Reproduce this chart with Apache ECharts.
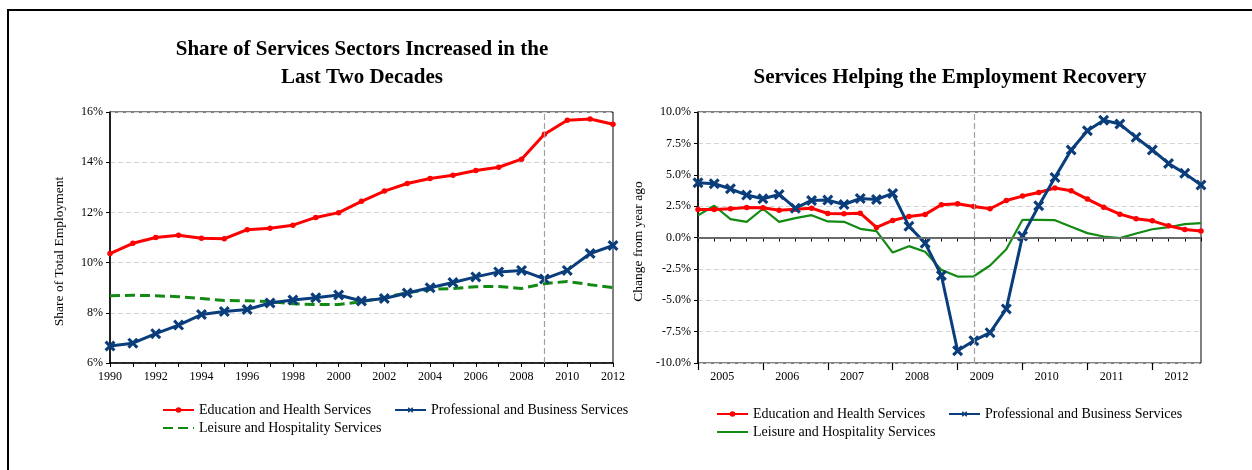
<!DOCTYPE html>
<html>
<head>
<meta charset="utf-8">
<title>Services Sectors</title>
<script src="https://cdn.jsdelivr.net/npm/echarts@6/dist/echarts.min.js"></script>
<style>
  html, body { margin: 0; padding: 0; background: #fff; }
  #frame { position: absolute; left: 7px; top: 9px; width: 1260px; height: 480px;
           border-left: 2px solid #000; border-top: 2px solid #000; }
  #left { position: absolute; left: 0; top: 0; width: 640px; height: 470px; }
  #right { position: absolute; left: 626px; top: 0; width: 626px; height: 470px; }
</style>
</head>
<body>
<div id="frame"></div>
<div id="left"></div>
<div id="right"></div>
<script>
// left chart: annual share of total employment (%)
var years = ['1990', '1991', '1992', '1993', '1994', '1995', '1996', '1997', '1998', '1999', '2000', '2001',
  '2002', '2003', '2004', '2005', '2006', '2007', '2008', '2009', '2010', '2011', '2012'];
var eduShare = [10.36, 10.77, 11.0, 11.09, 10.97, 10.95, 11.31, 11.37, 11.49, 11.8, 11.99, 12.44,
  12.85, 13.15, 13.35, 13.48, 13.67, 13.8, 14.12, 15.11, 15.67, 15.72, 15.51];
var proShare = [6.68, 6.79, 7.17, 7.51, 7.93, 8.05, 8.13, 8.39, 8.51, 8.6, 8.71, 8.47,
  8.57, 8.79, 9.0, 9.21, 9.43, 9.63, 9.69, 9.35, 9.69, 10.36, 10.68];
var leiShare = [8.68, 8.7, 8.68, 8.64, 8.57, 8.49, 8.48, 8.45, 8.36, 8.33, 8.33, 8.44,
  8.61, 8.8, 8.93, 8.97, 9.04, 9.05, 8.97, 9.16, 9.25, 9.12, 9.0];

// right chart: quarterly change from year ago (%)
var quarters = ['2005Q1', '2005Q2', '2005Q3', '2005Q4', '2006Q1', '2006Q2', '2006Q3', '2006Q4',
  '2007Q1', '2007Q2', '2007Q3', '2007Q4', '2008Q1', '2008Q2', '2008Q3', '2008Q4',
  '2009Q1', '2009Q2', '2009Q3', '2009Q4', '2010Q1', '2010Q2', '2010Q3', '2010Q4',
  '2011Q1', '2011Q2', '2011Q3', '2011Q4', '2012Q1', '2012Q2', '2012Q3', '2012Q4'];
var eduChg = [2.23, 2.23, 2.29, 2.39, 2.37, 2.18, 2.26, 2.34, 1.91, 1.89, 1.94, 0.8,
  1.36, 1.68, 1.84, 2.61, 2.69, 2.47, 2.29, 2.95, 3.3, 3.59, 3.94, 3.72,
  3.06, 2.42, 1.86, 1.49, 1.33, 0.93, 0.64, 0.51];
var proChg = [4.36, 4.28, 3.88, 3.38, 3.09, 3.43, 2.34, 2.95, 2.98, 2.63, 3.11, 3.03,
  3.51, 0.9, -0.45, -3.03, -9.02, -8.22, -7.58, -5.69, 0.11, 2.53, 4.79, 6.97,
  8.51, 9.34, 9.04, 7.98, 6.97, 5.9, 5.11, 4.18];
var leiChg = [1.76, 2.53, 1.46, 1.25, 2.29, 1.25, 1.54, 1.78, 1.28, 1.25, 0.69, 0.51,
  -1.2, -0.69, -1.14, -2.58, -3.11, -3.09, -2.23, -0.93, 1.41, 1.41, 1.38, 0.85,
  0.35, 0.08, -0.05, 0.32, 0.66, 0.82, 1.06, 1.14];

var leftTicks = [6, 8, 10, 12, 14, 16];
var rightTicks = [-10, -7.5, -5, -2.5, 0, 2.5, 5, 7.5, 10];

var FONT = "'Liberation Serif', 'Times New Roman', serif";
var RED = '#ff0000', BLUE = '#0a3d7b', GREEN = '#138a13';
var CROSS = 'path://M0,2L2,0L5,3L8,0L10,2L7,5L10,8L8,10L5,7L2,10L0,8L3,5Z';

function legendItem(name, left, top, noSymbol) {
  return {
    data: [noSymbol ? { name: name, itemStyle: { opacity: 0 } } : name],
    left: left, top: top, orient: 'horizontal', padding: 0,
    itemWidth: 31, itemHeight: 7, itemGap: 5, selectedMode: false,
    textStyle: { fontFamily: FONT, fontSize: 14, color: '#000' }
  };
}

var axisText = { fontFamily: FONT, fontSize: 12, color: '#000' };

// 左图
var chartLeft = echarts.init(document.getElementById('left'));
chartLeft.setOption({
  animation: false,
  title: {
    text: 'Share of Services Sectors Increased in the\nLast Two Decades',
    left: 362, top: 36, textAlign: 'center', padding: 0,
    textStyle: { fontFamily: FONT, fontSize: 21, fontWeight: 'bold', color: '#000', lineHeight: 28 }
  },
  legend: [
    legendItem('Education and Health Services', 162, 403),
    legendItem('Professional and Business Services', 394, 403),
    legendItem('Leisure and Hospitality Services', 162, 421, true)
  ],
  grid: { left: 110, right: 27, top: 112, bottom: 107, show: true, borderColor: '#000', borderWidth: 1,
    outerBoundsMode: 'none' },
  xAxis: {
    type: 'category', data: years, boundaryGap: false,
    axisLine: { lineStyle: { color: '#000', width: 1.5 } },
    axisTick: { interval: 0, length: 4, lineStyle: { color: '#000' } },
    axisLabel: Object.assign({ interval: 1, margin: 8 }, axisText),
    splitLine: { show: false }
  },
  yAxis: {
    type: 'value', min: leftTicks[0], max: leftTicks[leftTicks.length - 1], interval: 2,
    name: 'Share of Total Employment', nameLocation: 'middle', nameGap: 44,
    nameTextStyle: { fontFamily: FONT, fontSize: 13.5, color: '#000', padding: [0, 28, 0, 0] },
    axisLine: { show: true, lineStyle: { color: '#000', width: 1.5 } },
    axisTick: { show: true, length: 4, lineStyle: { color: '#000' } },
    axisLabel: Object.assign({ formatter: '{value}%', margin: 7 }, axisText),
    splitLine: { lineStyle: { color: '#d4d4d4', type: [5, 3] } }
  },
  series: [
    {
      name: 'Education and Health Services', type: 'line', data: eduShare,
      symbol: 'circle', symbolSize: 5.5, showAllSymbol: true, z: 4,
      lineStyle: { color: RED, width: 3 }, itemStyle: { color: RED },
      markLine: {
        silent: true, symbol: 'none', label: { show: false },
        lineStyle: { color: '#a0a0a0', type: [6, 3], width: 1.2 },
        data: [{ xAxis: '2009' }]
      }
    },
    {
      name: 'Professional and Business Services', type: 'line', data: proShare,
      symbol: CROSS, symbolSize: 11, showAllSymbol: true, z: 4,
      lineStyle: { color: BLUE, width: 3 }, itemStyle: { color: BLUE }
    },
    {
      name: 'Leisure and Hospitality Services', type: 'line', data: leiShare,
      symbol: 'none', z: 3,
      lineStyle: { color: GREEN, width: 3, type: [10, 5] }, itemStyle: { color: GREEN }
    }
  ]
});

// 右图
var chartRight = echarts.init(document.getElementById('right'));
chartRight.setOption({
  animation: false,
  title: {
    text: 'Services Helping the Employment Recovery',
    left: 324, top: 64, textAlign: 'center', padding: 0,
    textStyle: { fontFamily: FONT, fontSize: 21, fontWeight: 'bold', color: '#000', lineHeight: 28 }
  },
  legend: [
    legendItem('Education and Health Services', 90, 407),
    legendItem('Professional and Business Services', 322, 407),
    legendItem('Leisure and Hospitality Services', 90, 425, true)
  ],
  grid: { left: 72, right: 51, top: 112, bottom: 107, show: true, borderColor: '#000', borderWidth: 1,
    outerBoundsMode: 'none' },
  xAxis: [
    {
      type: 'category', data: quarters, boundaryGap: false,
      axisLine: { lineStyle: { color: '#000', width: 1.5 } },
      axisTick: { interval: 0, length: 4, lineStyle: { color: '#000' } },
      axisLabel: Object.assign({
        interval: function (i) { return i % 4 === 1; },
        formatter: function (v) { return v.slice(0, 4); },
        padding: [0, 0, 0, 16], margin: 8
      }, axisText),
      splitLine: { show: false }
    },
    {
      // year boundary ticks
      type: 'category', data: quarters, boundaryGap: false, position: 'bottom',
      axisLine: { show: false },
      axisTick: { interval: function (i) { return i % 4 === 0; }, length: 7, lineStyle: { color: '#000', width: 1.2 } },
      axisLabel: { show: false },
      splitLine: { show: false }
    }
  ],
  yAxis: {
    type: 'value', min: rightTicks[0], max: rightTicks[rightTicks.length - 1], interval: 2.5,
    name: 'Change from year ago', nameLocation: 'middle', nameGap: 48,
    nameTextStyle: { fontFamily: FONT, fontSize: 13.5, color: '#000', padding: [0, 8, 0, 0] },
    axisLine: { show: true, lineStyle: { color: '#000', width: 1.5 } },
    axisTick: { show: true, length: 4, lineStyle: { color: '#000' } },
    axisLabel: Object.assign({ formatter: function (v) { return v.toFixed(1) + '%'; }, margin: 7 }, axisText),
    splitLine: { lineStyle: { color: '#d4d4d4', type: [5, 3] } }
  },
  series: [
    {
      name: 'Education and Health Services', type: 'line', data: eduChg,
      symbol: 'circle', symbolSize: 5.5, showAllSymbol: true, z: 4,
      lineStyle: { color: RED, width: 3 }, itemStyle: { color: RED },
      markLine: {
        silent: true, symbol: 'none', label: { show: false },
        data: [
          { xAxis: '2009Q2', lineStyle: { color: '#a0a0a0', type: [6, 3], width: 1.2 } },
          { yAxis: 0, lineStyle: { color: '#7a7a7a', type: 'solid', width: 1.5 } }
        ]
      }
    },
    {
      name: 'Professional and Business Services', type: 'line', data: proChg,
      symbol: CROSS, symbolSize: 11, showAllSymbol: true, z: 4,
      lineStyle: { color: BLUE, width: 3 }, itemStyle: { color: BLUE }
    },
    {
      name: 'Leisure and Hospitality Services', type: 'line', data: leiChg,
      symbol: 'none', z: 3,
      lineStyle: { color: GREEN, width: 2.2 }, itemStyle: { color: GREEN }
    }
  ]
});
</script>
</body>
</html>
